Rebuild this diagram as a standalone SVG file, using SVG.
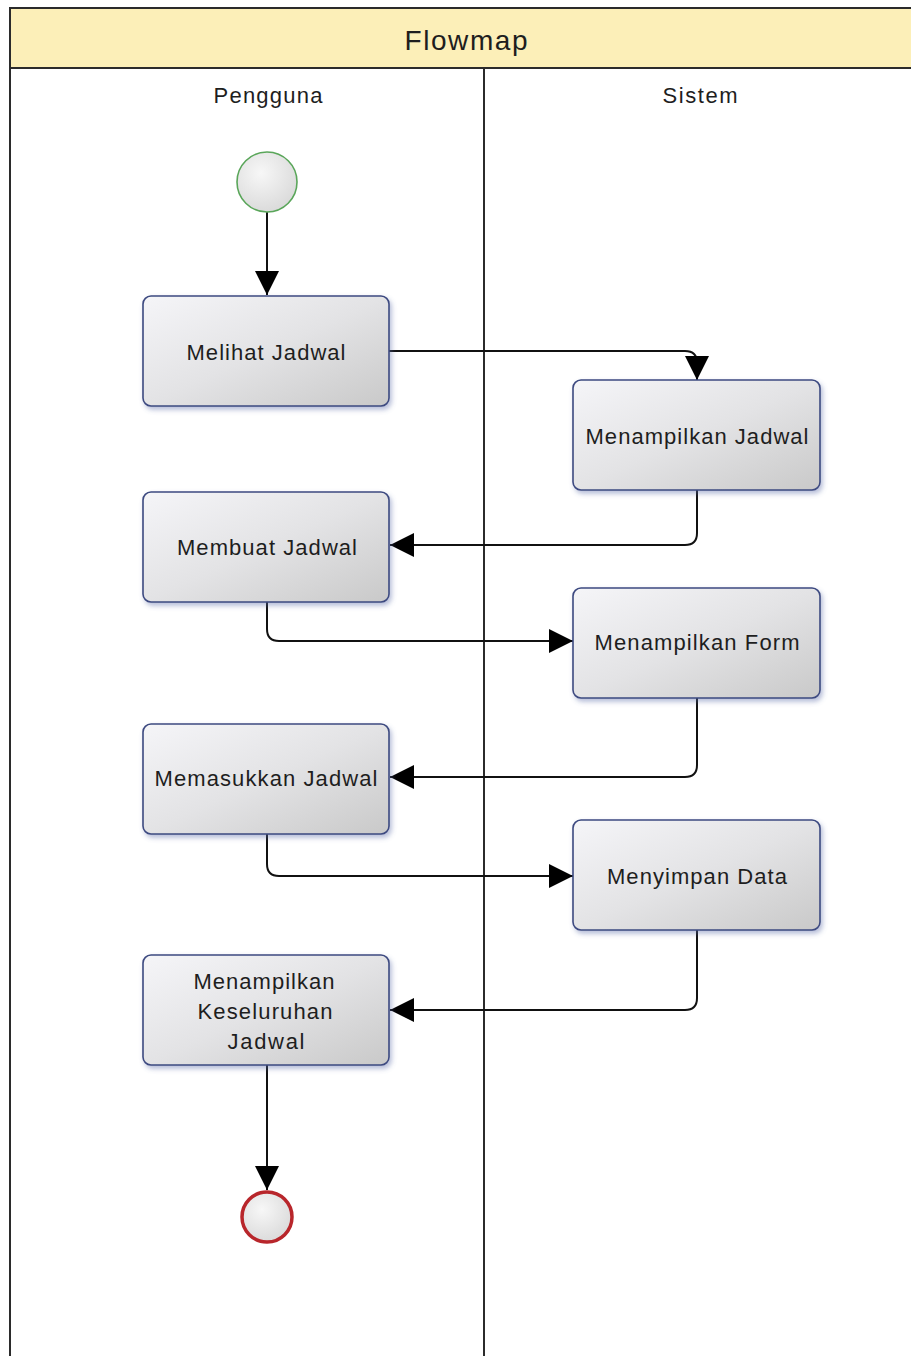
<svg xmlns="http://www.w3.org/2000/svg" width="911" height="1356" viewBox="0 0 911 1356">
<style>
.frame{fill:none;stroke:#2b2b2b;stroke-width:2}
.box{fill:url(#boxg);stroke:#3d4a80;stroke-width:1.6;filter:url(#sh)}
.lbl{font-family:"Liberation Sans",Arial,sans-serif;font-size:22px;fill:#1e1e1e;text-anchor:middle}
.title{font-size:28px}
.conn{fill:none;stroke:#111;stroke-width:2}
</style>
<defs>
<linearGradient id="boxg" x1="0" y1="0" x2="1" y2="1">
<stop offset="0" stop-color="#f5f5f8"/>
<stop offset="0.5" stop-color="#e3e3e5"/>
<stop offset="1" stop-color="#c9c9c9"/>
</linearGradient>
<radialGradient id="circg" cx="0.4" cy="0.35" r="0.7">
<stop offset="0" stop-color="#f7f7f7"/>
<stop offset="1" stop-color="#d9d9d9"/>
</radialGradient>
<filter id="sh" x="-10%" y="-10%" width="130%" height="130%">
<feDropShadow dx="2" dy="3" stdDeviation="2.5" flood-color="#5a6aa8" flood-opacity="0.45"/>
</filter>
<marker id="arr" viewBox="0 0 24 24" refX="24" refY="12" markerWidth="24" markerHeight="24" markerUnits="userSpaceOnUse" orient="auto">
<path d="M0,0 L24,12 L0,24 z" fill="#000"/>
</marker>
</defs>
<g id="pool">
<rect x="10" y="8" width="910" height="60" fill="#fcefb8" stroke="#2b2b2b" stroke-width="2"/>
<line class="frame" x1="10" y1="68" x2="10" y2="1356"/>
<line class="frame" x1="484" y1="68" x2="484" y2="1356"/>
<text class="lbl title" x="466" y="50" textLength="123" lengthAdjust="spacing">Flowmap</text>
<text class="lbl" x="268" y="103" textLength="109" lengthAdjust="spacing">Pengguna</text>
<text class="lbl" x="700" y="103" textLength="75" lengthAdjust="spacing">Sistem</text>
</g>
<g id="connectors">
<path class="conn" marker-end="url(#arr)" d="M267,212 V295"/>
<path class="conn" marker-end="url(#arr)" d="M389,351 H685 Q697,351 697,363 V380"/>
<path class="conn" marker-end="url(#arr)" d="M697,490 V533 Q697,545 685,545 H390"/>
<path class="conn" marker-end="url(#arr)" d="M267,602 V629 Q267,641 279,641 H573"/>
<path class="conn" marker-end="url(#arr)" d="M697,698 V765 Q697,777 685,777 H390"/>
<path class="conn" marker-end="url(#arr)" d="M267,834 V864 Q267,876 279,876 H573"/>
<path class="conn" marker-end="url(#arr)" d="M697,930 V998 Q697,1010 685,1010 H390"/>
<path class="conn" marker-end="url(#arr)" d="M267,1065 V1190"/>
</g>
<g id="start">
<circle cx="267" cy="182" r="30" fill="url(#circg)" stroke="#5aa65a" stroke-width="1.6"/>
</g>
<g id="melihat">
<rect class="box" x="143" y="296" width="246" height="110" rx="8"/>
<text class="lbl" x="266" y="360" textLength="159" lengthAdjust="spacing">Melihat Jadwal</text>
</g>
<g id="menampilkan-jadwal">
<rect class="box" x="573" y="380" width="247" height="110" rx="8"/>
<text class="lbl" x="697" y="444" textLength="223" lengthAdjust="spacing">Menampilkan Jadwal</text>
</g>
<g id="membuat">
<rect class="box" x="143" y="492" width="246" height="110" rx="8"/>
<text class="lbl" x="267" y="555" textLength="180" lengthAdjust="spacing">Membuat Jadwal</text>
</g>
<g id="menampilkan-form">
<rect class="box" x="573" y="588" width="247" height="110" rx="8"/>
<text class="lbl" x="697" y="650" textLength="205" lengthAdjust="spacing">Menampilkan Form</text>
</g>
<g id="memasukkan">
<rect class="box" x="143" y="724" width="246" height="110" rx="8"/>
<text class="lbl" x="266" y="786" textLength="223" lengthAdjust="spacing">Memasukkan Jadwal</text>
</g>
<g id="menyimpan">
<rect class="box" x="573" y="820" width="247" height="110" rx="8"/>
<text class="lbl" x="697" y="884" textLength="180" lengthAdjust="spacing">Menyimpan Data</text>
</g>
<g id="keseluruhan">
<rect class="box" x="143" y="955" width="246" height="110" rx="8"/>
<text class="lbl" x="264" y="989" textLength="141" lengthAdjust="spacing">Menampilkan</text>
<text class="lbl" x="265" y="1019" textLength="135" lengthAdjust="spacing">Keseluruhan</text>
<text class="lbl" x="266" y="1049" textLength="77" lengthAdjust="spacing">Jadwal</text>
</g>
<g id="end">
<circle cx="267" cy="1217" r="25" fill="url(#circg)" stroke="#b8262b" stroke-width="3.5"/>
</g>
</svg>
